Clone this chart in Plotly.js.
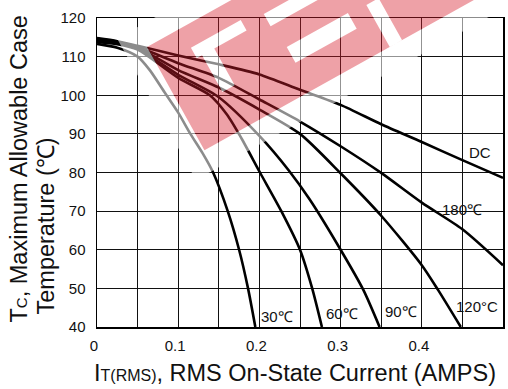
<!DOCTYPE html>
<html><head><meta charset="utf-8">
<script src="https://cdn.plot.ly/plotly-3.0.1.min.js"></script>
<style>html,body{margin:0;padding:0;background:#fff;}#chart{width:508px;height:389px;}</style>
</head><body><div id="chart"></div>
<script>
// ---- data ----
const seriesNames = ['DC', '180℃', '120°C', '90℃', '60℃', '30℃'];

const xDC   = [0, 0.025, 0.05, 0.1, 0.15, 0.2, 0.25, 0.3, 0.35, 0.4, 0.45, 0.5];
const yDC   = [114.8, 114, 112.8, 110.3, 108, 105.4, 101.4, 97.5, 92.5, 87.9, 83.2, 78.6];

const x180  = [0, 0.025, 0.05, 0.1, 0.15, 0.2, 0.25, 0.3, 0.35, 0.4, 0.45, 0.5];
const y180  = [114.6, 113.8, 112.5, 108.3, 104.5, 98.9, 93.2, 86.8, 79.9, 72.2, 65.3, 56];

const x120  = [0, 0.025, 0.05, 0.1, 0.15, 0.2, 0.25, 0.3, 0.35, 0.4, 0.42, 0.448];
const y120  = [114.3, 113.6, 112.3, 106.5, 102, 96.3, 90, 79.8, 68.8, 56, 49.6, 40];

const x90   = [0, 0.025, 0.05, 0.1, 0.15, 0.2, 0.236, 0.262, 0.3, 0.328, 0.348];
const y90   = [114, 113.4, 112, 105.3, 99.5, 89.5, 80.6, 73, 60, 49.6, 40];

const x60   = [0, 0.025, 0.05, 0.1, 0.139, 0.16, 0.178, 0.2007, 0.227, 0.25, 0.265, 0.277];
const y60   = [113.8, 113.2, 111.8, 104.5, 100, 95, 88.8, 80, 70, 60, 50, 40];

const x30   = [0, 0.025, 0.05, 0.065, 0.084, 0.1, 0.115, 0.13, 0.143, 0.161, 0.175, 0.186, 0.195];
const y30   = [113.3, 112.3, 110, 106.5, 100.5, 95.5, 90, 85, 80, 70, 60, 50, 40];

const xTickVals = [0, 0.1, 0.2, 0.3, 0.4, 0.5];
const xTickText = ['0', '0.1', '0.2', '0.3', '0.4', '0.5'];
const yTickVals = [40, 50, 60, 70, 80, 90, 100, 110, 120];

const curveLabels = ['DC', '180℃', '120°C', '90℃', '60℃', '30℃'];

// ---- build ----
const FONT = '"Liberation Sans", Arial, sans-serif';
const xs = [xDC, x180, x120, x90, x60, x30];
const ys = [yDC, y180, y120, y90, y60, y30];
const traces = xs.map((x, i) => ({
  type: 'scatter', mode: 'lines', x: x, y: ys[i], name: seriesNames[i],
  line: {color: '#000', width: 2.6, shape: 'spline', smoothing: 0.7},
  hoverinfo: 'skip', showlegend: false
}));

// pixel helpers for plot area (decorative positions only)
const L = 97, R = 503, T = 18, B = 327;
const pxX = p => (p - L) / (R - L);
const pxY = p => (B - p) / (B - T);

// watermark geometry (band coordinates)
const A0 = [147, 47], U = [0.874, -0.487], N = [0.487, 0.874];
const bp = (s, t) => [A0[0] + s * U[0] + t * N[0], A0[1] + s * U[1] + t * N[1]];
const poly = pts => 'M' + pts.map(p => pxX(p[0]).toFixed(4) + ',' + pxY(p[1]).toFixed(4)).join('L') + 'Z';
const rectST = (s0, s1, t0, t1) => [bp(s0, t0), bp(s1, t0), bp(s1, t1), bp(s0, t1)];
const band = poly(rectST(0, 420, 0, 118));
const outer = poly(rectST(-22, 440, -22, 140));
const cut1 = poly([bp(38,22), bp(95,22), bp(95,34), bp(58,34), bp(58,76), bp(44,76), bp(44,34), bp(38,34)]);
const cut2 = poly(rectST(118, 172, 28, 42));
const cut3 = poly(rectST(122, 192, 68, 86));
const cut4 = poly(rectST(212, 226, 70, 118));
const cuts = cut1 + cut2 + cut3 + cut4;

const shapes = [
  {type: 'path', xref: 'paper', yref: 'paper', layer: 'above', path: outer + band + cuts,
   fillrule: 'evenodd', fillcolor: 'rgba(255,255,255,0.55)', line: {width: 0}},
  {type: 'path', xref: 'paper', yref: 'paper', layer: 'above', path: band + cuts,
   fillrule: 'evenodd', fillcolor: 'rgba(214,30,45,0.42)', line: {width: 0}}
];

const labelPos = [[0.472, 85.3], [0.450, 70.3], [0.468, 45.2], [0.374, 44.1], [0.302, 43.4], [0.222, 42.6]];
const annotations = curveLabels.map((t, i) => ({
  x: labelPos[i][0], y: labelPos[i][1], xref: 'x', yref: 'y', text: t, showarrow: false,
  font: {family: FONT, size: 15, color: '#111'}, xanchor: 'center', yanchor: 'middle'
}));
annotations.push({
  xref: 'paper', yref: 'paper', x: pxX(295), y: pxY(373), xanchor: 'center', yanchor: 'middle', showarrow: false,
  text: 'I<span style="font-size:16px">T(RMS)</span>, RMS On-State Current (AMPS)',
  font: {family: FONT, size: 23.5, color: '#111'}
});
annotations.push({
  xref: 'paper', yref: 'paper', x: pxX(18), y: pxY(325), xanchor: 'center', yanchor: 'bottom', showarrow: false,
  textangle: -90, text: 'T<span style="font-size:15px">C</span>, Maximum Allowable Case',
  font: {family: FONT, size: 23.5, color: '#111'}
});
annotations.push({
  xref: 'paper', yref: 'paper', x: pxX(45), y: pxY(316), xanchor: 'center', yanchor: 'bottom', showarrow: false,
  textangle: -90, text: 'Temperature (℃)',
  font: {family: FONT, size: 23.5, color: '#111'}
});

const layout = {
  width: 508, height: 389,
  margin: {l: L, r: 508 - R, t: T, b: 389 - B, pad: 0},
  paper_bgcolor: '#fff', plot_bgcolor: '#fff',
  showlegend: false,
  font: {family: FONT, color: '#111'},
  xaxis: {
    range: [0, 0.5], tickvals: xTickVals, ticktext: xTickText, ticks: '',
    showgrid: true, gridcolor: '#111', gridwidth: 1,
    minor: {dtick: 0.05, tick0: 0, showgrid: true, gridcolor: '#111', gridwidth: 1},
    showline: true, mirror: true, linecolor: '#000', linewidth: 1.5,
    zeroline: false, tickfont: {family: FONT, size: 15, color: '#111'},
    ticklabelstandoff: 4, ticklabelshift: -3, fixedrange: true
  },
  yaxis: {
    range: [40, 120], tickvals: yTickVals, ticks: '',
    showgrid: true, gridcolor: '#111', gridwidth: 1,
    showline: true, mirror: true, linecolor: '#000', linewidth: 1.5,
    zeroline: false, tickfont: {family: FONT, size: 15, color: '#111'},
    ticklabelstandoff: 7, fixedrange: true
  },
  shapes: shapes,
  annotations: annotations
};

Plotly.newPlot('chart', traces, layout, {displayModeBar: false, staticPlot: true});
</script>
</body></html>
